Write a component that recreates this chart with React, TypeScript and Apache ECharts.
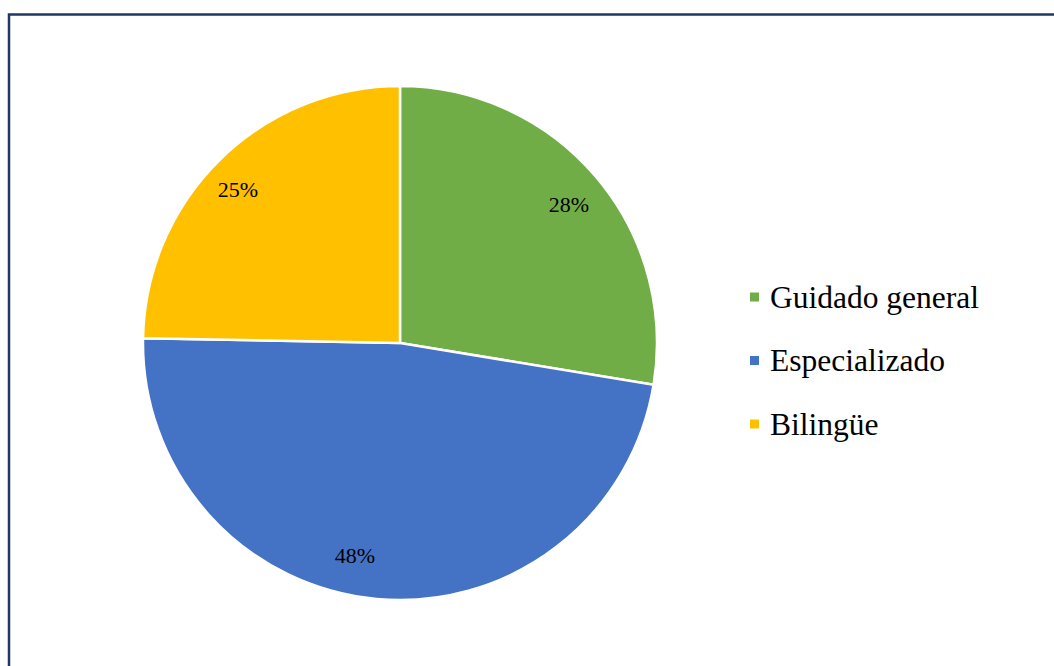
import React, { useEffect, useRef } from "react";
import * as echarts from "echarts";

const categories = ["Guidado general", "Especializado", "Bilingüe"];
const values = [27.6, 47.7, 24.7];
const labels = ["28%", "48%", "25%"];
const colors = ["#70AD47", "#4472C4", "#FFC000"];
const labelOffsets = [[0, 5], [-25, -8], [-7, 5]];

const FONT = "Liberation Serif";

export default function App() {
  const ref = useRef<HTMLDivElement>(null);
  useEffect(() => {
    if (!ref.current) return;
    const chart = echarts.init(ref.current, undefined, { renderer: "svg" });
    const data = categories.map((name, i) => ({
      name,
      value: values[i],
      itemStyle: { color: colors[i] },
    }));
    chart.setOption({
      animation: false,
      backgroundColor: "#ffffff",
      graphic: [
        {
          type: "rect",
          shape: { x: 9, y: 14.5, width: 1300, height: 900 },
          style: { fill: "none", stroke: "#203864", lineWidth: 2.5 },
          silent: true,
          z: 100,
        },
      ],
      legend: {
        orient: "vertical",
        left: 748,
        top: 281,
        padding: 0,
        data: categories,
        icon: "rect",
        itemWidth: 11,
        itemHeight: 11,
        itemGap: 31.5,
        selectedMode: false,
        textStyle: {
          fontFamily: FONT,
          fontSize: 31.5,
          lineHeight: 32,
          color: "#000000",
          padding: [0, 0, 0, 5],
        },
      },
      series: [
        {
          type: "pie",
          center: [400, 343],
          radius: [0, 257],
          startAngle: 90,
          clockwise: true,
          silent: true,
          label: { show: false },
          labelLine: { show: false },
          itemStyle: { borderColor: "#ffffff", borderWidth: 2.5 },
          data,
        },
        {
          type: "pie",
          center: [400, 343],
          radius: [180, 257],
          startAngle: 90,
          clockwise: true,
          silent: true,
          z: 5,
          labelLine: { show: false },
          itemStyle: { color: "rgba(0,0,0,0)", borderWidth: 0 },
          label: {
            show: true,
            position: "inside",
            fontFamily: FONT,
            fontSize: 22,
            color: "#000000",
            formatter: (p: any) => labels[p.dataIndex],
          },
          data: categories.map((name, i) => ({
            name,
            value: values[i],
            itemStyle: { color: "rgba(0,0,0,0)" },
            label: { offset: labelOffsets[i] },
          })),
        },
      ],
    });
    return () => chart.dispose();
  }, []);
  return (
    <div
      ref={ref}
      style={{ position: "absolute", left: 0, top: 0, width: 1054, height: 666 }}
    />
  );
}
